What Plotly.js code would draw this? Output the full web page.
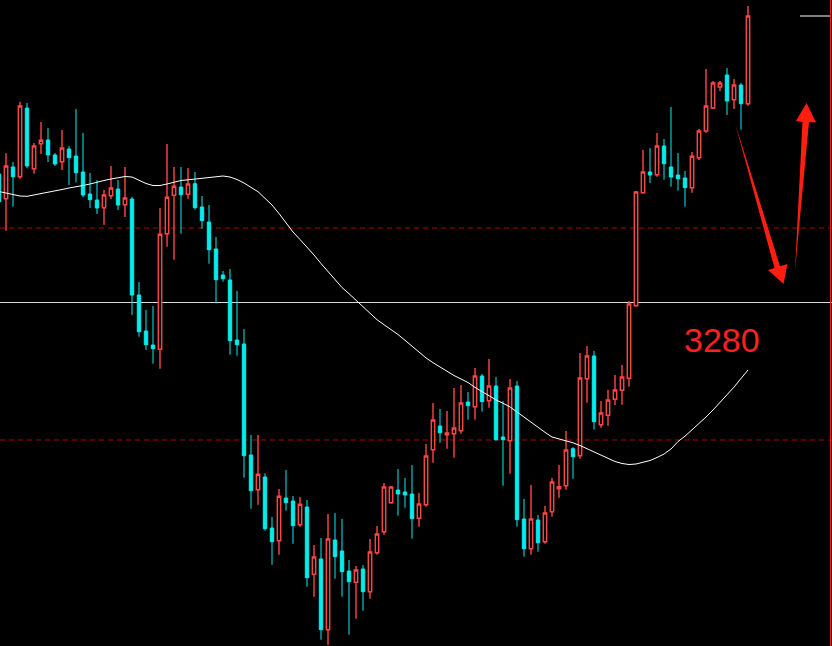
<!DOCTYPE html>
<html>
<head>
<meta charset="utf-8">
<script src="https://cdn.plot.ly/plotly-3.0.1.min.js"></script>
<style>html,body{margin:0;padding:0;background:#000;}#chart{width:832px;height:646px;}</style>
</head>
<body>
<div id="chart"></div>
<script>
// Bar numbers (0 = leftmost, partly cut)
const bars = Array.from({length: 108}, (_, i) => i);

const open = [3305.2, 3300.26, 3306.6, 3304.66, 3318.4, 3306.26, 3311.26, 3312, 3309, 3307.66,
 3310.2, 3308.8, 3305.6, 3301.2, 3300, 3298.46, 3300.86, 3302.2, 3299.06, 3300.2,
 3281, 3273.8, 3271, 3270.14, 3293.26, 3300.94, 3302.6, 3301.14, 3303.26, 3298.6,
 3295.6, 3290.2, 3285, 3284, 3272, 3271.2, 3249, 3242.06, 3244.6, 3234.4,
 3231.86, 3240.4, 3239.8, 3235.06, 3238.6, 3225.14, 3228.2, 3214.06, 3232, 3229.8,
 3225.8, 3223.54, 3226.2, 3221.66, 3229.46, 3233.66, 3239.46, 3242, 3241.6, 3241.2,
 3236.34, 3239.06, 3250.06, 3254.8, 3253.06, 3253.26, 3253.86, 3259.6, 3258.66, 3264.8,
 3259.86, 3262.8, 3252.6, 3251.86, 3262.8, 3236.2, 3230.26, 3236, 3231.66, 3237.66,
 3242.26, 3242.86, 3250.26, 3248.86, 3264.26, 3268.8, 3255.06, 3256.94, 3260.14, 3261.94,
 3264.34, 3278.86, 3301.46, 3305.6, 3305.06, 3310.8, 3306.6, 3305, 3304.4, 3302.46,
 3308.46, 3313.8, 3318.4, 3322.6, 3325, 3320.06, 3323, 3319.26];

const high = [3306, 3309.34, 3307.6, 3319.66, 3319.4, 3311.4, 3315.6, 3314.4, 3309.4, 3314,
 3310.8, 3318.2, 3313.4, 3305.4, 3304, 3302, 3306.8, 3304, 3306.6, 3300.6,
 3283.6, 3278, 3278.8, 3298.4, 3311.2, 3306.6, 3306.6, 3306.4, 3305.6, 3300.8,
 3299, 3292.6, 3285.8, 3286.2, 3281.8, 3274.2, 3253, 3253, 3245.34, 3236.6,
 3242.2, 3246, 3240.8, 3240.6, 3240, 3231, 3232.4, 3237.2, 3237.4, 3236.2,
 3228, 3226.8, 3227, 3232.2, 3234.8, 3243.4, 3242.8, 3246.2, 3244.4, 3247,
 3241.4, 3251.2, 3259.4, 3258.2, 3257.8, 3262.4, 3263, 3261.6, 3266.4, 3265.2,
 3268.2, 3264.6, 3259.8, 3264.2, 3263.8, 3240.2, 3243, 3237, 3238.8, 3244.4,
 3247, 3253.8, 3250.6, 3269.4, 3270.8, 3269.8, 3259.8, 3262, 3265, 3267,
 3279.8, 3301.8, 3310, 3310.4, 3313.4, 3312.2, 3318.6, 3309.4, 3305.8, 3309.6,
 3314.2, 3326.2, 3323.8, 3323.8, 3326.4, 3324.2, 3323.4, 3338.8];

const low = [3299.4, 3293.86, 3298.66, 3304.26, 3306.34, 3305.26, 3309.2, 3307.6, 3306.8, 3306,
 3303, 3303.54, 3300.6, 3298.4, 3297.2, 3295, 3300.2, 3298, 3296.6, 3277,
 3272.66, 3270, 3267.26, 3266.26, 3290.66, 3288.06, 3293.26, 3300.26, 3298.06, 3294.26,
 3287.26, 3279.34, 3283.66, 3269.06, 3268.86, 3244.46, 3238.26, 3239.06, 3233.86, 3227.06,
 3229.06, 3237.86, 3231.26, 3234.66, 3222.66, 3220.66, 3212.06, 3211, 3224.26, 3220.66,
 3213.06, 3216.26, 3217.86, 3220.26, 3229.06, 3233.06, 3239.26, 3236.86, 3238.46, 3232.26,
 3234.66, 3238.66, 3247.46, 3251.46, 3250.26, 3248.46, 3253.26, 3256.06, 3256.06, 3257.66,
 3258.46, 3251.86, 3242.86, 3245.26, 3234.66, 3228.66, 3229.06, 3229.66, 3231.26, 3236.66,
 3240.46, 3242.06, 3244.26, 3248.26, 3259.46, 3254.06, 3254.46, 3254.86, 3259, 3259.06,
 3262.66, 3278.66, 3301.26, 3303.4, 3304.66, 3304.06, 3302.66, 3301.86, 3298.66, 3301.46,
 3308, 3313.46, 3318.2, 3321.8, 3317, 3318.2, 3314.06, 3318.86];

const close = [3299.66, 3306.8, 3304.66, 3318.8, 3306.8, 3310.8, 3311.94, 3309, 3307.2, 3310.4,
 3308.46, 3305.46, 3301, 3300.06, 3298.4, 3301, 3302.4, 3299, 3300.4, 3281,
 3273.66, 3271.06, 3270.26, 3293.14, 3300.54, 3302.74, 3301.06, 3303.2, 3298.46, 3295.86,
 3290.06, 3284.06, 3284.26, 3271.86, 3271.06, 3248.86, 3241.86, 3245.14, 3234.26, 3231.66,
 3240.74, 3239.46, 3234.86, 3239.14, 3224.46, 3228.6, 3214.06, 3232.2, 3228.66, 3225.66,
 3223.66, 3226, 3221.66, 3229.6, 3233.2, 3242.6, 3242.6, 3241.2, 3241, 3236.26,
 3239.2, 3248.8, 3256, 3253.46, 3253.4, 3254.4, 3259.4, 3258.86, 3264.8, 3259.66,
 3262.8, 3252.06, 3252.06, 3262.4, 3236.06, 3230.26, 3236.2, 3231.46, 3237.4, 3243.6,
 3242.66, 3250, 3248.66, 3264.4, 3268.8, 3255.66, 3257.4, 3260, 3262, 3264.6,
 3279.2, 3301.6, 3305.6, 3305, 3310.8, 3307.26, 3304.6, 3304.26, 3302.46, 3308.74,
 3313.8, 3318.8, 3323.4, 3323.4, 3319.8, 3323, 3319.26, 3336.8];

const ma = [3301.7, 3301.4, 3301, 3300.8, 3300.74, 3301, 3301.2, 3301.5, 3301.8, 3302.1,
 3302.4, 3302.6, 3302.9, 3303.2, 3303.6, 3303.9, 3304.2, 3304.5, 3304.7, 3304.6,
 3303.9, 3303.3, 3302.9, 3302.9, 3303.2, 3303.6, 3303.9, 3304.04, 3304.2, 3304.26,
 3304.5, 3304.7, 3304.8, 3304.6, 3304.1, 3303.4, 3302.5, 3301.66, 3300.34, 3299,
 3297.3, 3295.4, 3293.6, 3292.1, 3290.6, 3289, 3287.3, 3285.64, 3284.1, 3282.5,
 3281.26, 3280, 3278.7, 3277.4, 3276.06, 3275.06, 3274.1, 3273.1, 3271.94, 3270.7,
 3269.46, 3268.42, 3267.46, 3266.56, 3265.72, 3264.9, 3264.2, 3263.5, 3262.52, 3261.64,
 3260.74, 3260.02, 3259.34, 3258.62, 3257.6, 3256.54, 3255.5, 3254.5, 3253.54, 3252.6,
 3252.2, 3251.9, 3251.44, 3250.9, 3250.26, 3249.6, 3248.9, 3248.26, 3247.7, 3247.3,
 3247.1, 3247.2, 3247.5, 3247.9, 3248.5, 3249.2, 3250.2, 3251.7, 3252.76, 3254,
 3255.2, 3256.6, 3258, 3259.46, 3261, 3262.58, 3264.3, 3266];

// Horizontal levels
const solidLevels = [3279.5];
const dashedLevels = [3294.4, 3252];
const targetLabel = '3280';
const highLabel = '3338.830';

const W = 832, H = 646;
const P = (x, y) => (x / W).toFixed(4) + ',' + (1 - y / H).toFixed(4);

const shapes = [];
solidLevels.forEach(v => shapes.push({type:'line', xref:'paper', yref:'y', x0:0, x1:1, y0:v, y1:v,
  line:{color:'#d8d8d8', width:1}, layer:'below'}));
dashedLevels.forEach(v => shapes.push({type:'line', xref:'paper', yref:'y', x0:0, x1:1, y0:v, y1:v,
  line:{color:'#b00000', width:1, dash:'5px,4px'}, layer:'below'}));
// current price marker at right
shapes.push({type:'line', xref:'paper', yref:'y', x0:800/W, x1:830/W, y0:close[close.length-1], y1:close[close.length-1],
  line:{color:'#ffffff', width:1}});
// right red border
shapes.push({type:'line', xref:'paper', yref:'paper', x0:830.5/W, x1:830.5/W, y0:0, y1:1,
  line:{color:'#e02020', width:1}});
// hand-drawn arrows
shapes.push({type:'path', xref:'paper', yref:'paper',
  path:'M'+P(735,123)+' L'+P(780,266.3)+' L'+P(787.5,264)+' L'+P(783.5,284)+' L'+P(768,270)+' L'+P(774.5,268)+' Z',
  fillcolor:'#ff1e10', line:{width:0}});
shapes.push({type:'path', xref:'paper', yref:'paper',
  path:'M'+P(795,271)+' L'+P(809,122)+' L'+P(816,122.5)+' L'+P(806.5,103)+' L'+P(796,121)+' L'+P(802.5,122)+' Z',
  fillcolor:'#ff1e10', line:{width:0}});

const traces = [
  {type:'candlestick', x:bars, open:open, high:high, low:low, close:close,
   increasing:{line:{color:'#ff4545', width:1.4}, fillcolor:'#000000'},
   decreasing:{line:{color:'#00eded', width:1}, fillcolor:'#00eded'},
   whiskerwidth:0, hoverinfo:'skip', showlegend:false},
  {type:'scatter', mode:'lines', x:bars, y:ma, line:{color:'#ffffff', width:1},
   hoverinfo:'skip', showlegend:false}
];

const layout = {
  width:W, height:H,
  margin:{l:0, r:0, t:0, b:0, pad:0},
  paper_bgcolor:'#000000', plot_bgcolor:'#000000',
  showlegend:false,
  xaxis:{range:[1/7, 1/7 + W/7], visible:false, showgrid:false, zeroline:false, rangeslider:{visible:false}, fixedrange:true},
  yaxis:{range:[3340 - H*0.2, 3340], visible:false, showgrid:false, zeroline:false, fixedrange:true},
  shapes:shapes,
  annotations:[
    {text:targetLabel, xref:'paper', yref:'paper', x:722/W, y:1-340/H, xanchor:'center', yanchor:'middle',
     showarrow:false, font:{family:'Liberation Sans, Arial, sans-serif', size:34, color:'#ff2020'}},
    {text:highLabel, xref:'paper', yref:'paper', x:747/W, y:1-4/H, xanchor:'center', yanchor:'bottom',
     showarrow:false, font:{family:'Liberation Sans, Arial, sans-serif', size:16, color:'#ff2020'}}
  ]
};

Plotly.newPlot('chart', traces, layout, {displayModeBar:false, staticPlot:true});
</script>
</body>
</html>
